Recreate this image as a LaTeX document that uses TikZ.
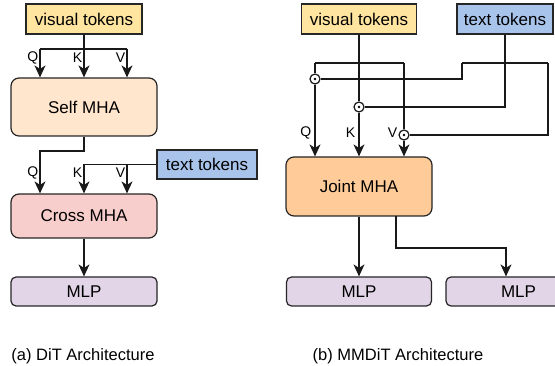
\documentclass[tikz,border=0pt]{standalone}
\usepackage{fontspec}
\setmainfont{Liberation Sans}
\usetikzlibrary{arrows.meta, calc}
\definecolor{tokyellow}{HTML}{FFE59F}
\definecolor{tokblue}{HTML}{A9C4EB}
\definecolor{selfpeach}{HTML}{FFE6CC}
\definecolor{crosspink}{HTML}{F8CECC}
\definecolor{jointorange}{HTML}{FFCC99}
\definecolor{mlplilac}{HTML}{E1D5E7}

\begin{document}
\begin{tikzpicture}[x=1pt, y=-1pt,
	box/.style={draw=black!85, line width=1.2pt, inner sep=0pt, font=\fontsize{17pt}{20pt}\selectfont},
	tok/.style={box, minimum width=#1, minimum height=30pt},
	mha/.style={box, rounded corners=8pt, minimum width=146pt},
	mlp/.style={box, rounded corners=5pt, fill=mlplilac, minimum width=146pt, minimum height=29pt},
	wire/.style={line width=1.3pt, black!90},
	arr/.style={wire, -{Stealth[length=12pt, width=11pt, inset=3.5pt]}},
	lbl/.style={anchor=east, inner sep=1.5pt, font=\fontsize{14pt}{16pt}\selectfont},
	prod/.style={circle, draw=black!90, line width=1.2pt, fill=white, minimum size=10pt, inner sep=0pt},
	captext/.style={font=\fontsize{16.5pt}{19pt}\selectfont}]
	\useasboundingbox (0,0) rectangle (555,366);
	\clip (0,0) rectangle (555,366);
	% (a) DiT
	\node [tok=116pt, fill=tokyellow] (vis1) at (84,19) {visual tokens};
	\node [mha, fill=selfpeach, minimum height=58pt] (self) at (84,107) {Self MHA};
	\node [tok=100pt, fill=tokblue, minimum height=29pt] (txt1) at (207,164.5) {text tokens};
	\node [mha, fill=crosspink, minimum height=44pt] (cross) at (84,216) {Cross MHA};
	\node [mlp] (mlp1) at (84,291.5) {MLP};
	\node [captext] (capa) at (83,356) {(a) DiT Architecture};
	\coordinate (sq) at (40,49);
	\coordinate (sv) at (127,49);
	\coordinate (cq) at (40,151);
	\coordinate (cv) at (127,164.5);
	\draw [wire] (sq) -- (sv);
	\draw [arr] (vis1.south) -- (self.north);
	\draw [arr] (sq) -- (sq |- self.north);
	\draw [arr] (sv) -- (sv |- self.north);
	\draw [arr] (self.south) |- (cq) -- (cq |- cross.north);
	\draw [arr] (txt1.west) -| (cross.north);
	\draw [arr] (cv) -- (cv |- cross.north);
	\draw [arr] (cross.south) -- (mlp1.north);
	\foreach \y in {58,173} {
		\node [lbl] at (40,\y) {Q};
		\node [lbl] at (84,\y) {K};
		\node [lbl] at (127,\y) {V};
	}
	% (b) MMDiT
	\node [tok=115pt, fill=tokyellow] (vis2) at (359,19) {visual tokens};
	\node [tok=96pt, fill=tokblue] (txt2) at (505,19) {text tokens};
	\node [mha, fill=jointorange, minimum height=59pt] (joint) at (359,186.5) {Joint MHA};
	\node [mlp, minimum width=145pt] (mlp2) at (359,291.5) {MLP};
	\node [mlp, minimum width=145pt] (mlp3) at (518.5,291.5) {MLP};
	\node [captext] (capb) at (398,356) {(b) MMDiT Architecture};
	\node [prod] (pq) at (315,79) {};
	\node [prod] (pk) at (359,107) {};
	\node [prod] (pv) at (404,135) {};
	\foreach \p in {pq,pk,pv}
		\fill (\p) circle (1.3pt);
	\coordinate (jq) at (315,63);
	\coordinate (jv) at (404,63);
	\coordinate (tq) at (462,63);
	\coordinate (tv) at (548,63);
	\coordinate (jo) at (396,216);
	\coordinate (mo) at (506,248);
	\draw [wire] (jq) -- (jv);
	\draw [wire] (jq) -- (pq);
	\draw [wire] (jv) -- (pv);
	\draw [wire] (vis2.south) -- (pk);
	\draw [wire] (tq) -- (tv);
	\draw [wire] (txt2.south) |- (pk);
	\draw [wire] (tq) |- (pq);
	\draw [wire] (tv) |- (pv);
	\draw [arr] (pq) -- (pq |- joint.north);
	\draw [arr] (pk) -- (joint.north);
	\draw [arr] (pv) -- (pv |- joint.north);
	\node [lbl] at (313,133) {Q};
	\node [lbl] at (357,133) {K};
	\node [lbl] at (399,133) {V};
	\draw [arr] (joint.south) -- (mlp2.north);
	\draw [arr] (jo) |- (mo) -- (mo |- mlp3.north);
\end{tikzpicture}
\end{document}
